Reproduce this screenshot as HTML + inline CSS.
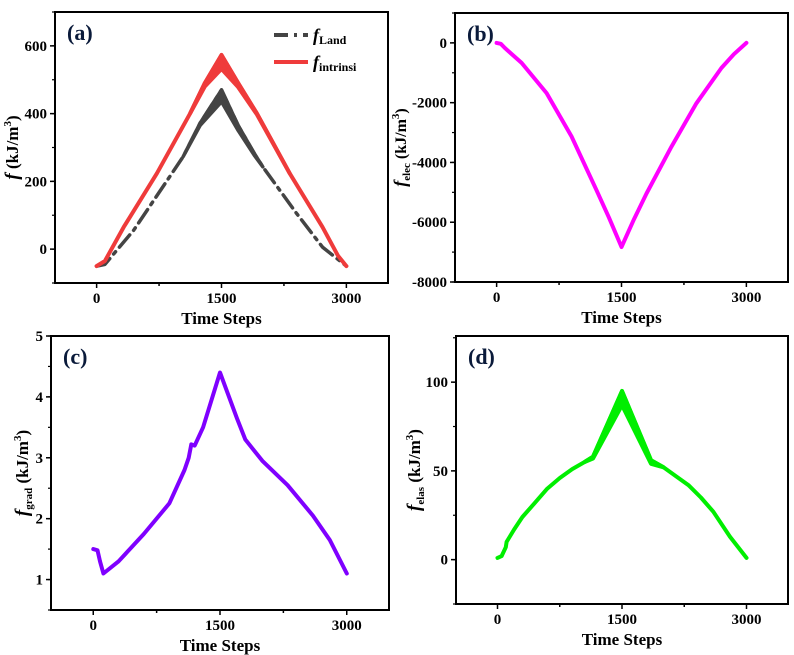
<!DOCTYPE html>
<html><head><meta charset="utf-8">
<style>
html,body{margin:0;padding:0;background:#fff;}
svg{display:block;font-family:"Liberation Serif",serif;}
</style></head>
<body>
<svg id="fig" width="794" height="655" viewBox="0 0 794 655" xmlns="http://www.w3.org/2000/svg"></svg>
<script>
// ---- data ----
const landT = [0,100,445,1040,1243,1500,1700,1900,1996,2400,2713,3000];
const landV = [-50,-45,56,273,372,470,365,280,243,106,6,-50];
const landLowV = [-50,-45,56,273,365,435,350,275,243,106,6,-50];
const intrT = [0,100,325,725,1124,1300,1500,1700,1924,2318,2713,2900,3000];
const intrV = [-50,-35,65,224,401,490,573,490,401,224,65,-20,-50];
const intrLowV = [-50,-35,65,224,401,480,532,478,398,224,65,-20,-50];
const elecT = [0,50,100,300,600,900,1200,1350,1500,1650,1800,2100,2400,2700,2850,3000];
const elecV = [0,-30,-170,-670,-1680,-3130,-4930,-5850,-6830,-5900,-5040,-3470,-2020,-840,-380,0];
const gradT = [0,50,80,120,300,600,900,1080,1130,1160,1200,1300,1500,1700,1800,2000,2300,2600,2800,3000];
const gradV = [1.5,1.48,1.3,1.1,1.3,1.75,2.25,2.8,3.0,3.22,3.2,3.5,4.4,3.65,3.3,2.95,2.55,2.05,1.65,1.1];
const elasT = [0,50,100,110,200,300,450,600,750,900,1050,1150,1500,1850,2000,2150,2300,2450,2600,2800,3000];
const elasV = [1,2,7,10,17,24,32,40,46,51,55,58,95,56,52,47,42,35,27,13,1];
const elasLowV = [1,2,7,10,17,24,32,40,46,51,55,57,87,54,52,47,42,35,27,13,1];
const xTicks = [0,1500,3000];
const aTicks = [0,200,400,600];
const bTicks = [0,-2000,-4000,-6000,-8000];
const cTicks = [1,2,3,4,5];
const dTicks = [0,50,100];

const NS="http://www.w3.org/2000/svg";
const svg=document.getElementById('fig');
function mk(tag,attrs,parent){const e=document.createElementNS(NS,tag);for(const k in attrs)e.setAttribute(k,attrs[k]);(parent||svg).appendChild(e);return e;}
function lin(pts){return pts.map((p,i)=>(i?'L':'M')+p[0].toFixed(1)+','+p[1].toFixed(1)).join(' ');}

function panel(o){
  const g=mk('g',{});
  
  
  const sx=v=>o.x0+(v-o.xmin)/(o.xmax-o.xmin)*(o.x1-o.x0);
  const sy=v=>o.y1-(v-o.ymin)/(o.ymax-o.ymin)*(o.y1-o.y0);
  o.xt.forEach(v=>{
    const l=mk('line',{x1:sx(v),x2:sx(v),y1:o.y1,y2:o.y1+5,stroke:'#000','stroke-width':1.5},g);
    
    
    const t=mk('text',{x:sx(v),y:o.y1+20,'text-anchor':'middle','font-size':15,'font-weight':'bold'},g);
    t.textContent=v;
    
    
  });
  [750,2250].forEach(v=>{mk('line',{x1:sx(v),x2:sx(v),y1:o.y1,y2:o.y1+3,stroke:'#000','stroke-width':1.5},g);});
  o.yt.forEach(v=>{
    const l=mk('line',{x1:o.x0-5,x2:o.x0,y1:sy(v),y2:sy(v),stroke:'#000','stroke-width':1.5},g);
    
    
    const t=mk('text',{x:o.x0-8,y:sy(v)+5,'text-anchor':'end','font-size':15,'font-weight':'bold'},g);
    t.textContent=v;
    
    
  });
  const step=Math.abs(o.yt[1]-o.yt[0])/2;
  for(let v=Math.ceil(o.ymin/step)*step;v<=o.ymax;v+=step){
    mk('line',{x1:o.x0-3,x2:o.x0,y1:sy(v),y2:sy(v),stroke:'#000','stroke-width':1.2},g);
  }
  o.series.forEach(s=>{
    const pts=s.t.map((t,i)=>[sx(t),sy(s.v[i])]);
    if(s.low){
      const lp=s.t.map((t,i)=>[sx(t),sy(s.low[i])]);
      let a=s.v.findIndex((v,i)=>v!==s.low[i]), b=s.v.length-1;
      while(b>0&&s.v[b]===s.low[b])b--;
      a=Math.max(0,a-1); b=Math.min(s.v.length-1,b+1);
      const up=pts.slice(a,b+1), dn=lp.slice(a,b+1).reverse();
      const band=mk('path',{d:lin(up.concat(dn))+' Z',fill:s.c,stroke:s.c,'stroke-width':s.w,'stroke-linejoin':'round'},g);
      
      
    }
    const p=mk('path',{d:lin(pts),fill:'none',stroke:s.c,'stroke-width':s.w,'stroke-linejoin':'round','stroke-linecap':'round'},g);
    if(s.dash)p.setAttribute('stroke-dasharray',s.dash);
    
    
  });
  const fr=mk('rect',{x:o.x0,y:o.y0,width:o.x1-o.x0,height:o.y1-o.y0,fill:'none',stroke:'#000','stroke-width':2},g);
  
  
  const lab=mk('text',{x:o.x0+12,y:o.y0+28,'font-size':22,'font-weight':'bold',fill:'#0a1a3a'},g);
  lab.textContent='('+o.id+')';
  
  
  const xt=mk('text',{x:(o.x0+o.x1)/2,y:o.y1+41,'text-anchor':'middle','font-size':17,'font-weight':'bold'},g);
  xt.textContent='Time Steps';
  
  
  const cy=(o.y0+o.y1)/2;
  const fs=o.yfs||17;
  const yt=mk('text',{x:0,y:0,'text-anchor':'middle','font-size':fs,'font-weight':'bold',transform:`translate(${o.ylx},${cy}) rotate(-90)`},g);
  yt.innerHTML=`<tspan font-style="italic" font-size="${fs+2}">f</tspan>`+(o.sub?`<tspan font-size="11" dy="4">${o.sub}</tspan><tspan dy="-4"> (kJ/m</tspan>`:`<tspan> (kJ/m</tspan>`)+`<tspan font-size="11" dy="-7">3</tspan><tspan dy="7">)</tspan>`;
  
  
}

panel({id:'a',x0:55,x1:388,y0:12,y1:283,xmin:-500,xmax:3500,ymin:-100,ymax:700,xt:xTicks,yt:aTicks,ylx:18,sub:'',
 series:[
  {t:landT,v:landV,low:landLowV,c:'#444',w:3.5,dash:'16 6 3 6',name:'land-series'},
  {t:intrT,v:intrV,low:intrLowV,c:'#ef3b3b',w:4,name:'intrinsic-series'}]});
panel({id:'b',x0:455,x1:788,y0:13,y1:282,xmin:-500,xmax:3500,ymin:-8000,ymax:1000,xt:xTicks,yt:bTicks,ylx:406,yfs:16,sub:'elec',
 series:[{t:elecT,v:elecV,c:'#ff00ff',w:4,name:'elec-series'}]});
panel({id:'c',x0:51,x1:389,y0:336,y1:610,xmin:-500,xmax:3500,ymin:0.5,ymax:5,xt:xTicks,yt:cTicks,ylx:28,sub:'grad',
 series:[{t:gradT,v:gradV,c:'#7f00ff',w:4,name:'grad-series'}]});
panel({id:'d',x0:456,x1:788,y0:336,y1:604,xmin:-500,xmax:3500,ymin:-25,ymax:126,xt:xTicks,yt:dTicks,ylx:420,sub:'elas',
 series:[{t:elasT,v:elasV,low:elasLowV,c:'#00ee00',w:4,name:'elas-series'}]});

const lg=mk('g',{});


const l1=mk('line',{x1:274,x2:308,y1:35,y2:35,stroke:'#444','stroke-width':4,'stroke-dasharray':'14 6 3 6'},lg);


const t1=mk('text',{x:313,y:41,'font-size':18,'font-weight':'bold'},lg);
t1.innerHTML='<tspan font-style="italic">f</tspan><tspan font-size="12" dy="3">Land</tspan>';
const l2=mk('line',{x1:274,x2:308,y1:62,y2:62,stroke:'#ef3b3b','stroke-width':4},lg);


const t2=mk('text',{x:313,y:68,'font-size':18,'font-weight':'bold'},lg);
t2.innerHTML='<tspan font-style="italic">f</tspan><tspan font-size="12" dy="3">intrinsi</tspan>';
</script>
</body></html>
